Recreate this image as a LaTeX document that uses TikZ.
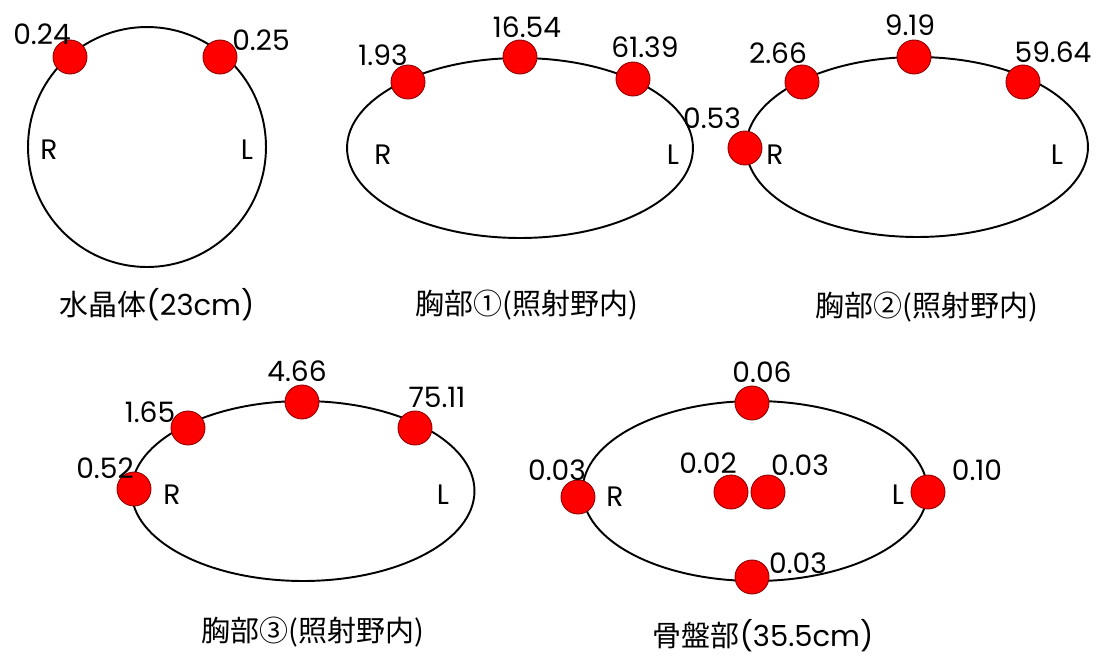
\documentclass[tikz,border=0pt]{standalone}
\usepackage{fontspec}
\setmainfont{Poppins}
\newfontfamily\jpfont{Noto Sans CJK JP}
\usetikzlibrary{shapes.geometric}
\tikzset{
    body/.style={draw, ellipse, line width=1.1pt, inner sep=0pt},
    dose/.style={circle, draw=red!55!black, fill=red, minimum size=0.68cm,
        inner sep=0pt, line width=0.5pt},
    val/.style={font=\fontsize{16}{18}\selectfont, inner sep=0pt},
    side/.style={font=\fontsize{16}{18}\selectfont, inner sep=0pt},
    caption/.style={font=\fontsize{16.5}{18}\selectfont, inner sep=0pt},
}
\begin{document}
\begin{tikzpicture}[x=0.02cm, y=-0.02cm]
        \useasboundingbox (0,0) rectangle (1096,657);

        % 水晶体
        \node[body, minimum width=4.76cm, minimum height=4.8cm] (lens) at (147,147) {};
        \node[dose] (lensR) at (70,57) {};
        \node[dose] (lensL) at (220,57) {};
        \node[val] (lensRv) at (42,34) {0.24};
        \node[val] (lensLv) at (261,40) {0.25};
        \node[side] (lensRs) at (49,150) {R};
        \node[side] (lensLs) at (247,150) {L};
        \node[caption] (lensCap) at (157,305) {{\jpfont 水晶体}(23cm)};

        % 胸部1
        \node[body, minimum width=6.92cm, minimum height=3.6cm] (chA) at (520,148) {};
        \node[dose] (chAr) at (408,82) {};
        \node[dose] (chAm) at (520,57) {};
        \node[dose] (chAl) at (633,79) {};
        \node[val] (chArv) at (383,55) {1.93};
        \node[val] (chAmv) at (527,27) {16.54};
        \node[val] (chAlv) at (645,47) {61.39};
        \node[side] (chARs) at (383,155) {R};
        \node[side] (chALs) at (673,155) {L};
        \node[caption] (chAcap) at (527,305) {{\jpfont 胸部①(照射野内)}};

        % 胸部2
        \node[body, minimum width=6.84cm, minimum height=3.6cm] (chB) at (917,147) {};
        \node[dose] (chBs) at (745,148) {};
        \node[dose] (chBr) at (802,82) {};
        \node[dose] (chBm) at (914,57) {};
        \node[dose] (chBl) at (1023,82) {};
        \node[val] (chBsv) at (712,118) {0.53};
        \node[val] (chBrv) at (778,53) {2.66};
        \node[val] (chBmv) at (910,25) {9.19};
        \node[val] (chBlv) at (1053,52) {59.64};
        \node[side] (chBRs) at (775,155) {R};
        \node[side] (chBLs) at (1057,155) {L};
        \node[caption] (chBcap) at (927,307) {{\jpfont 胸部②(照射野内)}};

        % 胸部3
        \node[body, minimum width=6.86cm, minimum height=3.6cm] (chC) at (303,491) {};
        \node[dose] (chCs) at (134,489) {};
        \node[dose] (chCr) at (188,428) {};
        \node[dose] (chCm) at (302,402) {};
        \node[dose] (chCl) at (415,428) {};
        \node[val] (chCsv) at (105,468) {0.52};
        \node[val] (chCrv) at (150,412) {1.65};
        \node[val] (chCmv) at (297,371) {4.66};
        \node[val] (chClv) at (437,397) {75.11};
        \node[side] (chCRs) at (172,495) {R};
        \node[side] (chCLs) at (443,495) {L};
        \node[caption] (chCcap) at (313,632) {{\jpfont 胸部③(照射野内)}};

        % 骨盤部
        \node[body, minimum width=6.9cm, minimum height=3.6cm] (pel) at (755,491) {};
        \node[dose] (pelR) at (578,497) {};
        \node[dose] (pelT) at (752,403) {};
        \node[dose] (pelC1) at (731,492) {};
        \node[dose] (pelC2) at (768,492) {};
        \node[dose] (pelL) at (928,492) {};
        \node[dose] (pelB) at (752,577) {};
        \node[val] (pelRv) at (557,470) {0.03};
        \node[val] (pelTv) at (762,372) {0.06};
        \node[val] (pelC1v) at (708,463) {0.02};
        \node[val] (pelC2v) at (800,465) {0.03};
        \node[val] (pelLv) at (977,470) {0.10};
        \node[val] (pelBv) at (798,563) {0.03};
        \node[side] (pelRs) at (615,497) {R};
        \node[side] (pelLs) at (898,495) {L};
        \node[caption] (pelCap) at (763,636) {{\jpfont 骨盤部}(35.5cm)};
    \end{tikzpicture}
\end{document}
